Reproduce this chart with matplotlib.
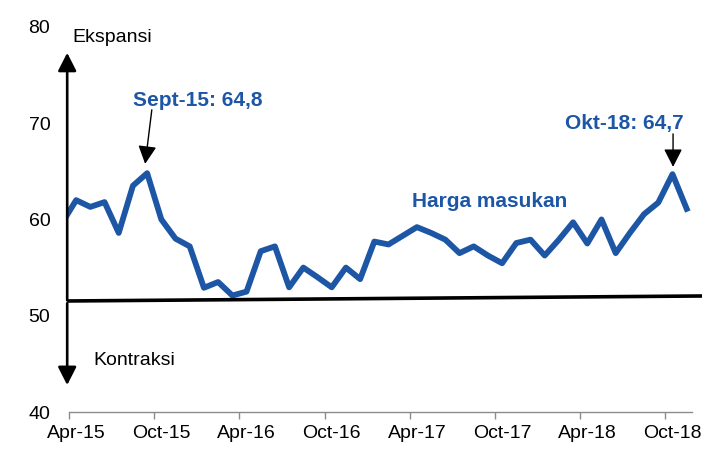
import numpy as np
import matplotlib
matplotlib.use("Agg")
import matplotlib.pyplot as plt

plt.rcParams['font.family'] = ['Liberation Sans', 'DejaVu Sans']

# Harga masukan index, monthly Mar-15 .. Nov-18
values = [59.6,
          62.0, 61.3, 61.8, 58.6, 63.5, 64.8, 60.0, 58.0, 57.2, 52.9, 53.5, 52.1,
          52.5, 56.7, 57.2, 52.95, 55.0, 54.0, 52.95, 55.0, 53.8, 57.7, 57.4, 58.3,
          59.2, 58.6, 57.9, 56.5, 57.2, 56.25, 55.45, 57.55, 57.9, 56.25, 57.9, 59.7,
          57.5, 60.0, 56.5, 58.6, 60.55, 61.75, 64.7, 61.1]
tick_labels = ["Apr-15", "Oct-15", "Apr-16", "Oct-16",
               "Apr-17", "Oct-17", "Apr-18", "Oct-18"]
y_ticks = [40, 50, 60, 70, 80]

blue = "#1D56A5"

# month index: Apr-15 = 0
x = np.arange(len(values)) - 1

fig = plt.figure(figsize=(7.14, 4.5), dpi=100)
ax = fig.add_axes([0.0947, 0.0844, 0.877, 0.856])

ax.plot(x, values, color=blue, lw=4.2, solid_joinstyle="round")

ax.set_xlim(-0.6, 43.5)
ax.set_ylim(40, 80)

for s in ["top", "right", "left"]:
    ax.spines[s].set_visible(False)
ax.spines["bottom"].set_color("#8c8c8c")
ax.spines["bottom"].set_linewidth(1.0)
ax.spines["bottom"].set_bounds(-0.5, 43.4)

ax.set_xticks(np.arange(0, 44, 6))
ax.set_xticklabels(tick_labels)
ax.set_xticks(np.arange(-0.5, 43, 6), minor=True)
ax.tick_params(axis="x", which="major", length=0, pad=9, labelsize=14)
ax.tick_params(axis="x", which="minor", length=5, width=1.0,
               color="#8c8c8c", direction="out")
ax.set_yticks(y_ticks)
ax.tick_params(axis="y", length=0, pad=12.5, labelsize=14)

# baseline ("50" line) and expansion / contraction arrows
ax.plot([-0.63, 44.08], [51.53, 52.05], color="black", lw=2.6,
        solid_capstyle="butt", clip_on=False)
big_head = "-|>,head_length=1.1,head_width=0.56"
ax.annotate("", xy=(-0.63, 77.3), xytext=(-0.63, 51.6),
            arrowprops=dict(arrowstyle=big_head, color="black", lw=1.9,
                            mutation_scale=10, shrinkA=0, shrinkB=0))
ax.annotate("", xy=(-0.63, 42.8), xytext=(-0.63, 51.3),
            arrowprops=dict(arrowstyle=big_head, color="black", lw=1.9,
                            mutation_scale=10, shrinkA=0, shrinkB=0))
ax.text(-0.28, 78.85, "Ekspansi", fontsize=14, ha="left", va="center")
ax.text(1.2, 45.4, "Kontraksi", fontsize=14, ha="left", va="center")

# peak callouts
ax.annotate("", xy=(4.86, 65.77), xytext=(5.33, 71.38),
            arrowprops=dict(arrowstyle=big_head, color="black", lw=1.0,
                            mutation_scale=10, shrinkA=0, shrinkB=0))
ax.annotate("", xy=(42.04, 65.45), xytext=(42.04, 68.88),
            arrowprops=dict(arrowstyle=big_head, color="black", lw=1.0,
                            mutation_scale=10, shrinkA=0, shrinkB=0))
ax.text(8.6, 72.3, "Sept-15: 64,8", color=blue, fontsize=15,
        fontweight="bold", ha="center", va="center")
ax.text(38.6, 70.0, "Okt-18: 64,7", color=blue, fontsize=15,
        fontweight="bold", ha="center", va="center")
ax.text(29.1, 61.9, "Harga masukan", color=blue, fontsize=15,
        fontweight="bold", ha="center", va="center")

fig.savefig("out.png", dpi=100)
